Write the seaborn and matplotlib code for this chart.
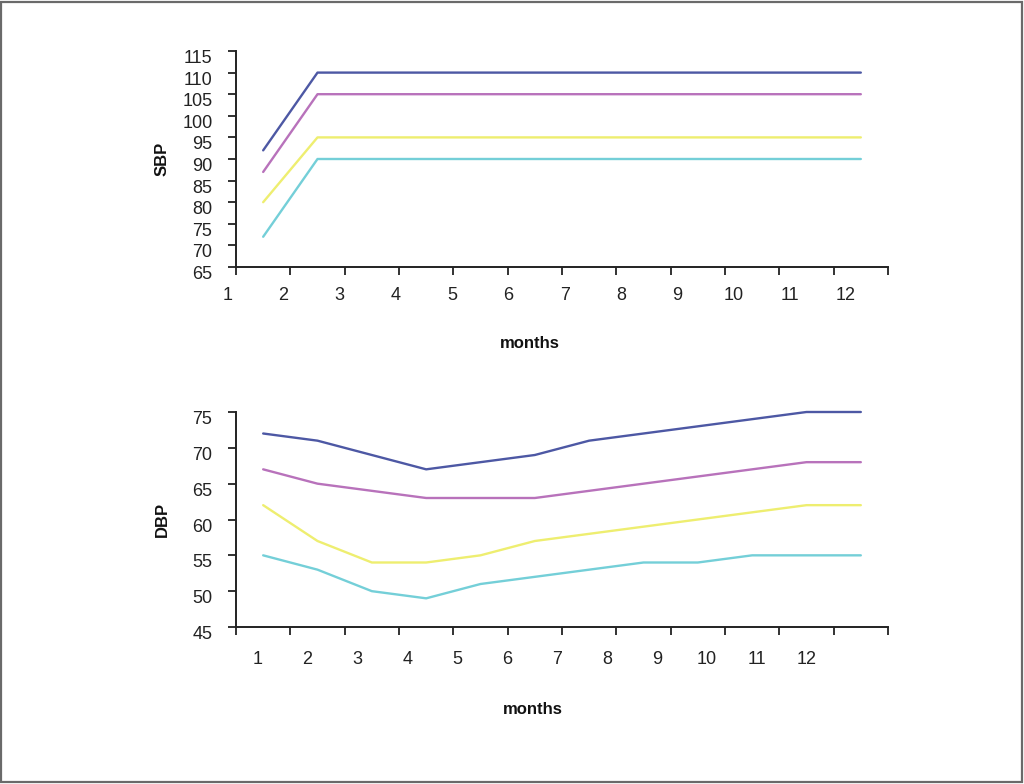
import numpy as np
import pandas as pd
import matplotlib
matplotlib.use('Agg')
import matplotlib.pyplot as plt
import matplotlib.transforms as mtransforms
from matplotlib.patches import Rectangle
import seaborn as sns

# data
months = list(range(1, 13))
series = ['upper', 'high', 'middle', 'lower']
colors = ['#4d58a4', '#b872bb', '#eeee70', '#74cfd8']

sbp_upper = [92, 110, 110, 110, 110, 110, 110, 110, 110, 110, 110, 110]
sbp_high = [87, 105, 105, 105, 105, 105, 105, 105, 105, 105, 105, 105]
sbp_middle = [80, 95, 95, 95, 95, 95, 95, 95, 95, 95, 95, 95]
sbp_lower = [72, 90, 90, 90, 90, 90, 90, 90, 90, 90, 90, 90]

dbp_upper = [72, 71, 69, 67, 68, 69, 71, 72, 73, 74, 75, 75]
dbp_high = [67, 65, 64, 63, 63, 63, 64, 65, 66, 67, 68, 68]
dbp_middle = [62, 57, 54, 54, 55, 57, 58, 59, 60, 61, 62, 62]
dbp_lower = [55, 53, 50, 49, 51, 52, 53, 54, 54, 55, 55, 55]

sbp_ticks = list(range(65, 116, 5))
dbp_ticks = list(range(45, 76, 5))


def long_frame(columns):
    rows = []
    for name, values in zip(series, columns):
        for i, v in enumerate(values):
            rows.append({'pos': i, 'month': months[i], 'series': name, 'value': v})
    return pd.DataFrame(rows)


df_sbp = long_frame([sbp_upper, sbp_high, sbp_middle, sbp_lower])
df_dbp = long_frame([dbp_upper, dbp_high, dbp_middle, dbp_lower])

sns.set_style('ticks')
plt.rcParams['font.family'] = ['Liberation Sans', 'DejaVu Sans']

fig = plt.figure(figsize=(10.24, 7.84), dpi=100)
fig.patches.append(Rectangle((0.001, 0.002), 0.997, 0.996, transform=fig.transFigure,
                             fill=False, edgecolor='#6a6a6a', linewidth=1.6))

ax_top = fig.add_axes([236 / 1024, 1 - 267 / 784, 652 / 1024, 216 / 784])
ax_bot = fig.add_axes([236 / 1024, 1 - 627 / 784, 652 / 1024, 215 / 784])


def style_axis(ax, df, ylabel, yticks, label_start, label_step, label_drop, xlabel_xy):
    sns.lineplot(data=df, x='pos', y='value', hue='series', palette=colors,
                 hue_order=series, linewidth=1.7, legend=False, ax=ax)
    for line in ax.lines:
        line.set_clip_on(False)
    for side in ['top', 'right']:
        ax.spines[side].set_visible(False)
    for side in ['left', 'bottom']:
        ax.spines[side].set_linewidth(1.4)
        ax.spines[side].set_color('#222222')

    # category boundary ticks, no labels
    ax.set_xticks(np.arange(-0.5, len(months), 1.0))
    ax.set_xticklabels([])
    ax.tick_params(axis='x', which='major', length=6, width=1.3, color='#222222')

    # month labels sit a little off the ticks, as in the original
    trans = mtransforms.blended_transform_factory(ax.transData, ax.transAxes)
    trans = trans + mtransforms.ScaledTranslation(0, -label_drop / 100, fig.dpi_scale_trans)
    for i, m in enumerate(months):
        ax.text(label_start + label_step * i, 0, str(m), transform=trans,
                ha='center', va='center', fontsize=13, color='#222222', clip_on=False)

    ax.set_yticks(yticks)
    ax.set_yticklabels([str(t) for t in yticks])
    ax.tick_params(axis='y', length=6, width=1.3, color='#222222', pad=11,
                   labelsize=13, labelcolor='#222222')
    offset = mtransforms.ScaledTranslation(0, -0.055, fig.dpi_scale_trans)
    for lab in ax.get_yticklabels():
        lab.set_transform(lab.get_transform() + offset)

    ax.set_xlim(-0.5, len(months) - 0.5)
    ax.set_ylim(yticks[0], yticks[-1])

    ax.set_xlabel('months', fontsize=12, fontweight='bold', color='#111111')
    ax.set_ylabel(ylabel, fontsize=12, fontweight='bold', color='#111111')
    ax.xaxis.set_label_coords(*xlabel_xy)
    ax.yaxis.set_label_coords(-0.1013, 0.5)


style_axis(ax_top, df_sbp, 'SBP', sbp_ticks, -0.66, 1.035, 28, (0.451, -0.32))
style_axis(ax_bot, df_dbp, 'DBP', dbp_ticks, -0.11, 0.92, 33, (0.456, -0.35))

fig.savefig('out.png', dpi=100)
